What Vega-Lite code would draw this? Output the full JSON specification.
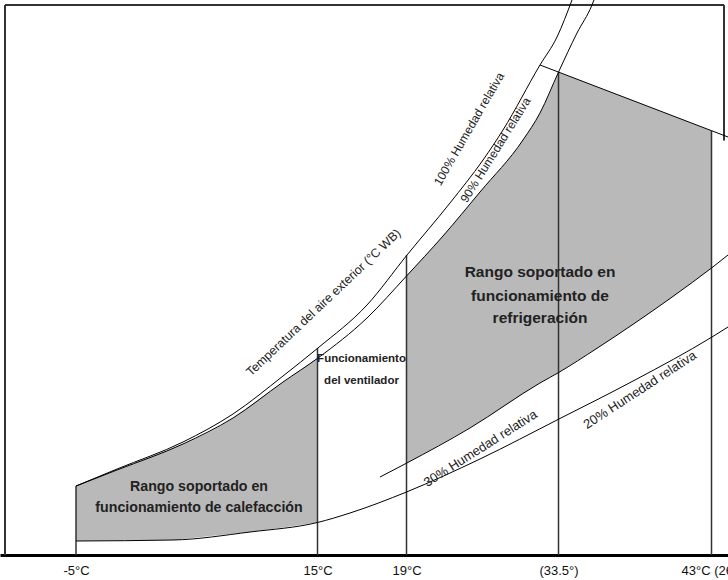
{
  "$schema": "https://vega.github.io/schema/vega-lite/v6.json",
  "width": 728,
  "height": 555,
  "autosize": {"type": "none"},
  "padding": {"left": 0, "top": 0, "right": 0, "bottom": 25},
  "background": "white",
  "config": {"view": {"stroke": null}},
  "datasets": {
    "heat": [
      {"T": -5, "h": 4.6, "h2": 0.933},
      {"T": -1.6, "h": 5.667, "h2": 0.96},
      {"T": 3.033, "h": 7.14, "h2": 1.0},
      {"T": 3.861, "h": 7.4, "h2": 1.07},
      {"T": 8.002, "h": 9.133, "h2": 1.41},
      {"T": 9.41, "h": 9.95, "h2": 1.533},
      {"T": 12.143, "h": 11.533, "h2": 1.84},
      {"T": 15, "h": 13.133, "h2": 2.167}
    ],
    "coolA": [
      {"T": 19, "h": 18.6, "h2": 6.12},
      {"T": 22.482, "h": 21.267, "h2": 7.467},
      {"T": 26.011, "h": 24.2, "h2": 8.89},
      {"T": 30.113, "h": 27.667, "h2": 10.74},
      {"T": 31.735, "h": 29.467, "h2": 11.467},
      {"T": 33.5, "h": 32.19, "h2": 12.16}
    ],
    "coolB": [
      {"T": 33.5, "h": 32.19, "h2": 12.16},
      {"T": 35.89, "h": 31.21, "h2": 13.78},
      {"T": 38.25, "h": 30.24, "h2": 15.467},
      {"T": 40.61, "h": 29.27, "h2": 17.24},
      {"T": 43, "h": 28.288, "h2": 19.133}
    ],
    "curves": [
      {"c": "100", "T": -5, "h": 4.6},
      {"c": "100", "T": -1.6, "h": 5.733},
      {"c": "100", "T": 3.861, "h": 7.533},
      {"c": "100", "T": 8.002, "h": 9.4},
      {"c": "100", "T": 12.143, "h": 11.933},
      {"c": "100", "T": 15.02, "h": 13.8},
      {"c": "100", "T": 17.225, "h": 16.667},
      {"c": "100", "T": 19.05, "h": 20},
      {"c": "100", "T": 23.15, "h": 23.467},
      {"c": "100", "T": 26.3, "h": 26.333},
      {"c": "100", "T": 28.205, "h": 28.333},
      {"c": "100", "T": 31.735, "h": 32.667},
      {"c": "100", "T": 33.357, "h": 34.533},
      {"c": "100", "T": 34.338, "h": 37},
      {"c": "90", "T": -5, "h": 4.6},
      {"c": "90", "T": -1.6, "h": 5.667},
      {"c": "90", "T": 3.861, "h": 7.4},
      {"c": "90", "T": 8.002, "h": 9.133},
      {"c": "90", "T": 12.143, "h": 11.533},
      {"c": "90", "T": 15.02, "h": 13.133},
      {"c": "90", "T": 17.225, "h": 15.8},
      {"c": "90", "T": 19, "h": 18.6},
      {"c": "90", "T": 22.482, "h": 21.267},
      {"c": "90", "T": 26.011, "h": 24.2},
      {"c": "90", "T": 30.113, "h": 27.667},
      {"c": "90", "T": 31.735, "h": 29.467},
      {"c": "90", "T": 33.5, "h": 32.19},
      {"c": "90", "T": 34.649, "h": 34.8},
      {"c": "90", "T": 35.58, "h": 36.667},
      {"c": "90", "T": 35.704, "h": 37},
      {"c": "30", "T": 17.809, "h": 5.2},
      {"c": "30", "T": 19, "h": 6.12},
      {"c": "30", "T": 25.057, "h": 8.467},
      {"c": "30", "T": 31.735, "h": 11.467},
      {"c": "30", "T": 33.5, "h": 12.16},
      {"c": "30", "T": 35.89, "h": 13.78},
      {"c": "30", "T": 38.25, "h": 15.467},
      {"c": "30", "T": 40.61, "h": 17.24},
      {"c": "30", "T": 43, "h": 19.133},
      {"c": "30", "T": 44, "h": 20},
      {"c": "20", "T": -5, "h": 0.933},
      {"c": "20", "T": 3.033, "h": 1.0},
      {"c": "20", "T": 9.41, "h": 1.533},
      {"c": "20", "T": 15, "h": 2.167},
      {"c": "20", "T": 16.461, "h": 2.8},
      {"c": "20", "T": 19, "h": 4.2},
      {"c": "20", "T": 26.011, "h": 6.4},
      {"c": "20", "T": 33.53, "h": 9.067},
      {"c": "20", "T": 38.25, "h": 11.667},
      {"c": "20", "T": 43.03, "h": 14.533},
      {"c": "20", "T": 44, "h": 15.2}
    ],
    "diagonal": [
      {"T": 31.735, "h": 32.667},
      {"T": 33.5, "h": 32.194},
      {"T": 43, "h": 28.288},
      {"T": 44, "h": 27.867}
    ],
    "vlines": [
      {"T": -5, "h": 0, "h2": 4.6},
      {"T": 15, "h": 0, "h2": 13.8},
      {"T": 19, "h": 0, "h2": 20},
      {"T": 33.5, "h": 0, "h2": 32.19},
      {"T": 43, "h": 0, "h2": 28.288}
    ],
    "frame": [
      {"T": -10.886, "T2": -10.886, "h": 0, "h2": 36.667},
      {"T": -10.886, "T2": 43.758, "h": 36.667, "h2": 36.667},
      {"T": 43.758, "T2": 43.758, "h": 36.667, "h2": 27.63}
    ],
    "coolText": [
      {"T": 31.735, "h": 18.87, "text": "Rango soportado en"},
      {"T": 31.735, "h": 17.27, "text": "funcionamiento de"},
      {"T": 31.735, "h": 15.8, "text": "refrigeración"}
    ],
    "heatText": [
      {"T": 5.186, "h": 4.533, "text": "Rango soportado en"},
      {"T": 5.186, "h": 3.133, "text": "funcionamiento de calefacción"}
    ],
    "fanText": [
      {"T": 16.978, "h": 13.067, "text": "Funcionamiento"},
      {"T": 16.978, "h": 11.6, "text": "del ventilador"}
    ]
  },
  "encoding": {
    "x": {
      "field": "T",
      "type": "quantitative",
      "scale": {"domain": [-11.3, -5, 15, 19, 33.5, 43, 44], "range": [0, 76, 317.5, 406.5, 558.5, 711.5, 728], "nice": false, "zero": false},
      "axis": {
        "values": [-5, 15, 19, 33.5, 43],
        "labelExpr": "datum.value == -5 ? '-5°C' : datum.value == 15 ? '15°C' : datum.value == 19 ? '19°C' : datum.value == 33.5 ? '(33.5°)' : '43°C (26°)'",
        "ticks": false,
        "grid": false,
        "domainColor": "#000",
        "domainWidth": 3,
        "labelFont": "Liberation Sans",
        "labelFontSize": 13,
        "labelColor": "#111",
        "labelPadding": 9,
        "labelFlush": false,
        "labelOverlap": false,
        "title": null
      }
    },
    "y": {"field": "h", "type": "quantitative", "scale": {"domain": [0, 37], "nice": false, "zero": false}, "axis": null}
  },
  "layer": [
    {"data": {"name": "heat"}, "mark": {"type": "area", "interpolate": "monotone", "color": "#b9b9b9"}, "encoding": {"y2": {"field": "h2"}}},
    {"data": {"name": "coolA"}, "mark": {"type": "area", "interpolate": "monotone", "color": "#b9b9b9"}, "encoding": {"y2": {"field": "h2"}}},
    {"data": {"name": "coolB"}, "mark": {"type": "area", "interpolate": "linear", "color": "#b9b9b9"}, "encoding": {"y2": {"field": "h2"}}},
    {"data": {"name": "vlines"}, "mark": {"type": "rule", "color": "#333", "strokeWidth": 1.5}, "encoding": {"y2": {"field": "h2"}}},
    {"data": {"name": "frame"}, "mark": {"type": "rule", "color": "#333", "strokeWidth": 2}, "encoding": {"x2": {"field": "T2"}, "y2": {"field": "h2"}}},
    {"data": {"name": "curves"}, "mark": {"type": "line", "interpolate": "monotone", "color": "#000", "strokeWidth": 1}, "encoding": {"detail": {"field": "c"}}},
    {"data": {"name": "diagonal"}, "mark": {"type": "line", "interpolate": "linear", "color": "#000", "strokeWidth": 1}, "encoding": {}},
    {"data": {"name": "coolText"}, "mark": {"type": "text", "font": "Liberation Sans", "fontWeight": "bold", "fontSize": 15.5, "color": "#222", "align": "center", "baseline": "middle"}, "encoding": {"text": {"field": "text"}}},
    {"data": {"name": "heatText"}, "mark": {"type": "text", "font": "Liberation Sans", "fontWeight": "bold", "fontSize": 14.2, "color": "#222", "align": "center", "baseline": "middle"}, "encoding": {"text": {"field": "text"}}},
    {"data": {"name": "fanText"}, "mark": {"type": "text", "font": "Liberation Sans", "fontWeight": "bold", "fontSize": 11.5, "color": "#222", "align": "center", "baseline": "middle"}, "encoding": {"text": {"field": "text"}}},
    {"data": {"values": [{"T": 15.27, "h": 16.83, "text": "Temperatura del aire exterior (°C WB)"}]}, "mark": {"type": "text", "font": "Liberation Sans", "fontSize": 12.4, "color": "#222", "align": "center", "baseline": "middle", "angle": -43.5}, "encoding": {"text": {"field": "text"}}},
    {"data": {"values": [{"T": 24.96, "h": 28.4, "text": "100% Humedad relativa"}]}, "mark": {"type": "text", "font": "Liberation Sans", "fontSize": 12, "color": "#222", "align": "center", "baseline": "middle", "angle": -60}, "encoding": {"text": {"field": "text"}}},
    {"data": {"values": [{"T": 27.49, "h": 27.0, "text": "90% Humedad relativa"}]}, "mark": {"type": "text", "font": "Liberation Sans", "fontSize": 12, "color": "#222", "align": "center", "baseline": "middle", "angle": -58}, "encoding": {"text": {"field": "text"}}},
    {"data": {"values": [{"T": 26.06, "h": 7.1, "text": "30% Humedad relativa"}]}, "mark": {"type": "text", "font": "Liberation Sans", "fontSize": 13, "color": "#222", "align": "center", "baseline": "middle", "angle": -32.5}, "encoding": {"text": {"field": "text"}}},
    {"data": {"values": [{"T": 38.56, "h": 11.0, "text": "20% Humedad relativa"}]}, "mark": {"type": "text", "font": "Liberation Sans", "fontSize": 13, "color": "#222", "align": "center", "baseline": "middle", "angle": -33}, "encoding": {"text": {"field": "text"}}}
  ]
}
